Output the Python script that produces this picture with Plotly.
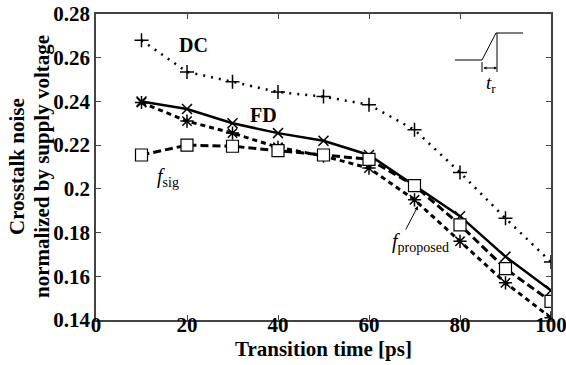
import plotly.graph_objects as go

x_ps = [10, 20, 30, 40, 50, 60, 70, 80, 90, 100]
dc = [0.268, 0.2535, 0.2490, 0.2443, 0.2422, 0.2385, 0.2270, 0.2075, 0.1865, 0.1665]
fd = [0.2400, 0.2365, 0.2300, 0.2255, 0.2220, 0.2155, 0.2015, 0.1875, 0.1690, 0.1535]
f_proposed = [0.2395, 0.2310, 0.2255, 0.2190, 0.2150, 0.2095, 0.1950, 0.1760, 0.1570, 0.1410]
f_sig = [0.2155, 0.2200, 0.2195, 0.2175, 0.2155, 0.2135, 0.2015, 0.1835, 0.1635, 0.1485]

x_ticks = [0, 20, 40, 60, 80, 100]
x_tick_text = ["0", "20", "40", "60", "80", "100"]
y_ticks = [0.14, 0.16, 0.18, 0.2, 0.22, 0.24, 0.26, 0.28]
y_tick_text = ["0.14", "0.16", "0.18", "0.2", "0.22", "0.24", "0.26", "0.28"]

FONT = "Liberation Serif, Times New Roman, serif"

fig = go.Figure()
fig.add_trace(go.Scatter(x=x_ps, y=dc, mode="lines+markers",
                         line=dict(color="black", width=2.5, dash="2px,6px"),
                         marker=dict(symbol="cross-thin-open", size=10,
                                     line=dict(color="black", width=1.5))))
fig.add_trace(go.Scatter(x=x_ps, y=fd, mode="lines+markers",
                         line=dict(color="black", width=2.5),
                         marker=dict(symbol="x-thin-open", size=10,
                                     line=dict(color="black", width=1.5))))
fig.add_trace(go.Scatter(x=x_ps, y=f_proposed, mode="lines+markers",
                         line=dict(color="black", width=3, dash="5px,4px"),
                         marker=dict(symbol="asterisk-open", size=11,
                                     line=dict(color="black", width=1.5))))
fig.add_trace(go.Scatter(x=x_ps, y=f_sig, mode="lines+markers",
                         line=dict(color="black", width=3, dash="8px,4px"),
                         marker=dict(symbol="square", size=12, color="white",
                                     line=dict(color="black", width=1.2))))

axis_common = dict(showline=True, linecolor="#444", linewidth=1.5, mirror="ticks",
                   ticks="inside", ticklen=5, tickcolor="#444", showgrid=False,
                   zeroline=False, automargin=False, ticklabeloverflow="allow",
                   tickfont=dict(family=FONT, size=21, color="black"))

fig.update_xaxes(range=[0, 100], tickvals=x_ticks,
                 ticktext=["<b>%s</b>" % t for t in x_tick_text], ticklabelstandoff=-15,
                 **axis_common)
fig.update_yaxes(range=[0.14, 0.28], tickvals=y_ticks,
                 ticktext=["<b>%s</b>" % t for t in y_tick_text], **axis_common)

def px(xp):
    return (xp - 96) / 455.0

def py(yp):
    return (320 - yp) / 306.0

ann_font = dict(family=FONT, size=20, color="black")
title_font = dict(family=FONT, size=21, color="black")
annotations = [
    dict(x=0.5, y=py(349), text="<b>Transition time [ps]</b>", font=title_font),
    dict(x=px(17), y=0.5, text="<b>Crosstalk noise</b>", font=title_font, textangle=-90),
    dict(x=px(42), y=0.5, text="<b>normalized by supply voltage</b>", font=title_font, textangle=-90),
    dict(x=px(193), y=py(45), text="<b>DC</b>", font=ann_font),
    dict(x=px(263), y=py(115), text="<b>FD</b>", font=ann_font),
    dict(x=px(168), y=py(177), text="<i>f</i><sub>sig</sub>", font=ann_font),
    dict(x=px(420), y=py(242), text="<i>f</i><sub>proposed</sub>", font=ann_font),
    dict(x=px(491), y=py(84), text="<i>t</i><sub>r</sub>", font=dict(family=FONT, size=19, color="black")),
    # arrow pointing at f_proposed curve
    dict(x=px(418), y=py(206), ax=px(405), ay=py(231), axref="x domain", ayref="y domain",
         text="", showarrow=True, arrowhead=2, arrowsize=0.8, arrowwidth=1, arrowcolor="black"),
    # t_r double arrow
    dict(x=px(497), y=py(68), ax=px(482), ay=py(68), axref="x domain", ayref="y domain",
         text="", showarrow=True, arrowhead=2, arrowside="end+start", arrowsize=0.6,
         arrowwidth=1, arrowcolor="black"),
]
for a in annotations:
    a.setdefault("showarrow", False)
    a["xref"] = "x domain"
    a["yref"] = "y domain"
    a["xanchor"] = "center"
    a["yanchor"] = "middle"

shapes = [
    dict(type="line", x0=px(455), y0=py(60), x1=px(482), y1=py(60)),
    dict(type="line", x0=px(482), y0=py(60), x1=px(496), y1=py(33)),
    dict(type="line", x0=px(496), y0=py(33), x1=px(523), y1=py(33)),
    dict(type="line", x0=px(497), y0=py(33), x1=px(497), y1=py(72)),
    dict(type="line", x0=px(482), y0=py(62), x1=px(482), y1=py(72)),
]
for s in shapes:
    s["xref"] = "paper"
    s["yref"] = "paper"
    s["line"] = dict(color="black", width=1)

fig.update_layout(width=566, height=365, margin=dict(l=96, r=15, t=14, b=45),
                  plot_bgcolor="white", paper_bgcolor="white", showlegend=False,
                  annotations=annotations, shapes=shapes)

fig.write_html("out.html")
